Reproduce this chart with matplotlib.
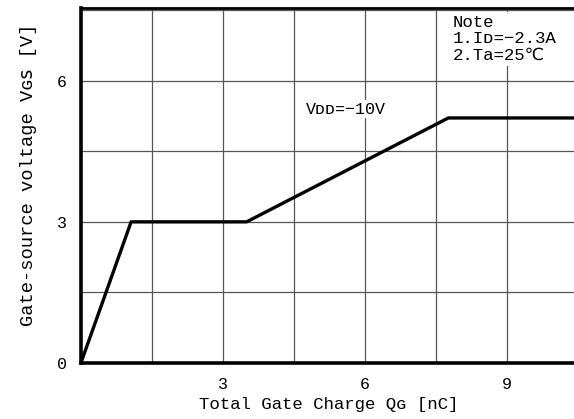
import numpy as np
import matplotlib.pyplot as plt

# gate charge curve (Qg in nC, Vgs in V)
qg = [0.0, 1.06, 3.50, 7.76, 10.6]
vgs = [0.0, 3.0, 3.0, 5.21, 5.21]

xticks = [3, 6, 9]
yticks = [0, 3, 6]
note_lines = ["Note", "1.Iᴅ=\u22122.3A", "2.Ta=25\u2103"]
curve_label = "Vᴅᴅ=\u221210V"

fam = ["Liberation Mono", "DejaVu Sans Mono", "DejaVu Sans"]
plt.rcParams['font.family'] = fam

fig = plt.figure(figsize=(5.74, 4.19), dpi=100)
ax = fig.add_axes([0.141, 0.134, 0.862, 0.847])

ax.plot(qg, vgs, color='black', lw=2.4, solid_capstyle='butt', zorder=3)

ax.set_xlim(0, 10.45)
ax.set_ylim(0, 7.55)
ax.set_xticks(np.arange(1.5, 10.45, 1.5), minor=True)
ax.set_yticks(np.arange(1.5, 7.55, 1.5), minor=True)
ax.grid(True, which='both', color='#555555', lw=0.9)
ax.set_xticks(xticks)
ax.set_xticklabels([str(t) for t in xticks])
ax.set_yticks(yticks)
ax.set_yticklabels([str(t) for t in yticks])
ax.tick_params(which='both', length=0, labelsize=12)
ax.tick_params(axis='x', pad=10)
ax.tick_params(axis='y', pad=10)

for s in ['left', 'bottom']:
    ax.spines[s].set_linewidth(2.6)
ax.spines['top'].set_linewidth(2.0)
ax.spines['right'].set_visible(False)

ax.set_xlabel("Total Gate Charge Qɢ [nC]", fontsize=12.5, labelpad=4)
ax.set_ylabel("Gate-source voltage Vɢꜱ [V]", fontsize=13.5)
ax.yaxis.set_label_coords(-0.088, 0.53)

ax.text(4.75, 5.4, curve_label, fontsize=12, va='center', ha='left', zorder=2,
        bbox=dict(facecolor='white', edgecolor='none', pad=1))
ax.text(7.85, 7.4, "\n".join(note_lines), fontsize=12.5, va='top', ha='left',
        linespacing=1.12, zorder=2,
        bbox=dict(facecolor='white', edgecolor='none', pad=2))

fig.savefig("out.png", dpi=100)
